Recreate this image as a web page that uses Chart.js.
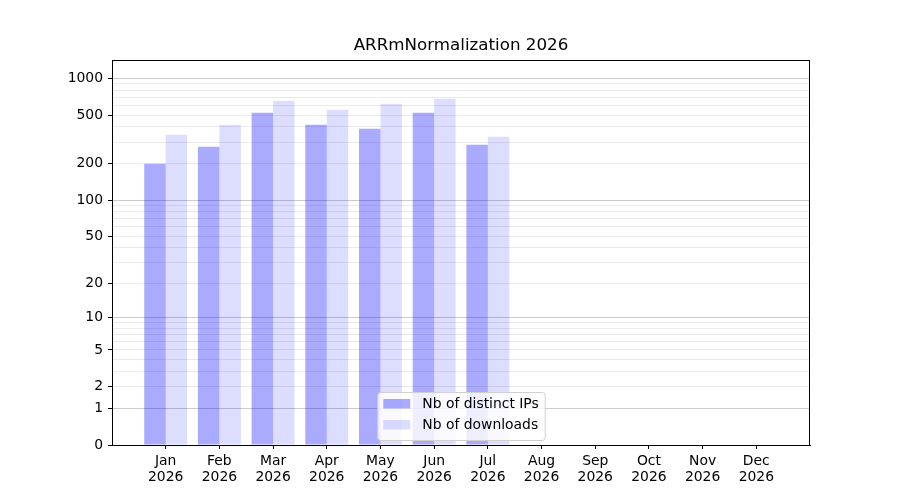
<!DOCTYPE html>
<html>
<head>
<meta charset="utf-8">
<title>ARRmNormalization 2026</title>
<script src="https://cdn.jsdelivr.net/npm/chart.js@4.4.1/dist/chart.umd.min.js"></script>
<style>
  html, body { margin: 0; padding: 0; background: #fff; }
  #wrap { width: 900px; height: 500px; }
</style>
</head>
<body>
<div id="wrap"><canvas id="arrChart" width="900" height="500"></canvas></div>
<script>
// Data
const months = ['Jan', 'Feb', 'Mar', 'Apr', 'May', 'Jun', 'Jul', 'Aug', 'Sep', 'Oct', 'Nov', 'Dec'];
const year = '2026';
const distinctIPs = [199, 275, 523, 417, 386, 523, 286];
const downloads = [345, 417, 656, 553, 620, 681, 332];
const yLabelled = [0, 1, 2, 5, 10, 20, 50, 100, 200, 500, 1000];
const yMajor = [1, 10, 100, 1000];
const yMinor = [2, 3, 4, 5, 6, 7, 8, 9, 20, 30, 40, 50, 60, 70, 80, 90, 200, 300, 400, 500, 600, 700, 800, 900];

const FONT = 'DejaVu Sans';

// y axis mapped with log10(1 + v), like the reference
class Log1pScale extends Chart.LinearScale {
    static id = 'log1p';
    static defaults = {};
    buildTicks() {
        const vals = [0].concat(yMajor, yMinor).sort((a, b) => a - b);
        return vals.filter(v => v >= this.min && v <= this.max).map(v => ({ value: v }));
    }
    configure() {
        super.configure();
        this._startValue = Math.log10(1 + this.min);
        this._valueRange = Math.log10(1 + this.max) - this._startValue;
    }
    getPixelForValue(value) {
        if (value === null || value === undefined || isNaN(value)) return NaN;
        return this.getPixelForDecimal((Math.log10(1 + value) - this._startValue) / this._valueRange);
    }
    getValueForPixel(pixel) {
        const dec = this.getDecimalForPixel(pixel);
        return Math.pow(10, this._startValue + dec * this._valueRange) - 1;
    }
}
Chart.register(Log1pScale);

// title, frame and legend drawn like matplotlib
const framePlugin = {
    id: 'framePlugin',
    afterDraw(chart) {
        const c = chart.ctx;
        const a = chart.chartArea;
        c.save();
        c.strokeStyle = '#000';
        c.lineWidth = 1;
        c.strokeRect(Math.round(a.left) + 0.5, Math.round(a.top) + 0.5, Math.round(a.right - a.left) - 1, Math.round(a.bottom - a.top));

        c.fillStyle = '#000';
        c.font = '16.7px "' + FONT + '"';
        c.textAlign = 'center';
        c.textBaseline = 'middle';
        c.fillText('ARRmNormalization 2026', (a.left + a.right) / 2, 46);

        // legend, lower center
        c.font = '13.9px "' + FONT + '"';
        const sets = chart.data.datasets;
        let tw = 0;
        sets.forEach(d => { tw = Math.max(tw, c.measureText(d.label).width); });
        const w = 6 + 27 + 12 + tw + 6;
        const h = 48;
        const x = (a.left + a.right) / 2 - w / 2;
        const y = a.bottom - 5 - h;
        c.beginPath();
        c.roundRect(x + 0.5, y + 0.5, w, h, 3);
        c.fillStyle = 'rgba(255,255,255,0.8)';
        c.fill();
        c.strokeStyle = '#d0d0d0';
        c.stroke();
        c.textAlign = 'left';
        sets.forEach((d, i) => {
            const ry = y + 7 + i * 21;
            c.fillStyle = d.backgroundColor;
            c.fillRect(x + 6, ry, 27, 9.5);
            c.fillStyle = '#000';
            c.fillText(d.label, x + 45, ry + 5);
        });
        c.restore();
    }
};

const ctx = document.getElementById('arrChart').getContext('2d');
const arrChart = new Chart(ctx, {
    type: 'bar',
    data: {
        datasets: [
            {
                label: 'Nb of distinct IPs',
                data: distinctIPs.map((v, i) => ({ x: i, y: v })),
                backgroundColor: 'rgba(0, 0, 255, 0.333)',
                borderWidth: 0,
            },
            {
                label: 'Nb of downloads',
                data: downloads.map((v, i) => ({ x: i, y: v })),
                backgroundColor: 'rgba(0, 0, 255, 0.133)',
                borderWidth: 0,
            },
        ],
    },
    options: {
        responsive: false,
        animation: false,
        layout: { padding: { top: 60, right: 90, left: 0, bottom: 0 } },
        datasets: { bar: { categoryPercentage: 0.8, barPercentage: 1.0 } },
        scales: {
            x: {
                type: 'linear',
                min: -1,
                max: 12,
                offset: false,
                afterBuildTicks: s => { s.ticks = months.map((m, i) => ({ value: i })); },
                afterFit: s => { s.height = 55; },
                grid: { offset: false, drawOnChartArea: false, tickLength: 4, tickColor: '#000' },
                border: { color: '#000', width: 1 },
                ticks: {
                    autoSkip: false,
                    maxRotation: 0,
                    padding: 4,
                    color: '#000',
                    font: { family: FONT, size: 13.9, lineHeight: 1.15 },
                    callback: v => (months[v] ? [months[v], year] : ''),
                },
            },
            y: {
                type: 'log1p',
                min: 0,
                max: 1413,
                afterFit: s => { s.width = 112; },
                grid: {
                    color: c => (yMajor.includes(c.tick.value) ? '#cbcbcb' : (c.tick.value === 0 ? 'rgba(0,0,0,0)' : '#ebebeb')),
                    tickColor: c => (yLabelled.includes(c.tick.value) ? '#000' : 'rgba(0,0,0,0)'),
                    tickLength: 4,
                    lineWidth: 1,
                },
                border: { color: '#000', width: 1 },
                ticks: {
                    autoSkip: false,
                    padding: 5,
                    color: '#000',
                    font: { family: FONT, size: 13.9 },
                    callback: v => (yLabelled.includes(v) ? String(v) : ''),
                },
            },
        },
        plugins: {
            legend: { display: false },
            title: { display: false },
            tooltip: { enabled: false },
        },
    },
    plugins: [framePlugin],
});
</script>
</body>
</html>
